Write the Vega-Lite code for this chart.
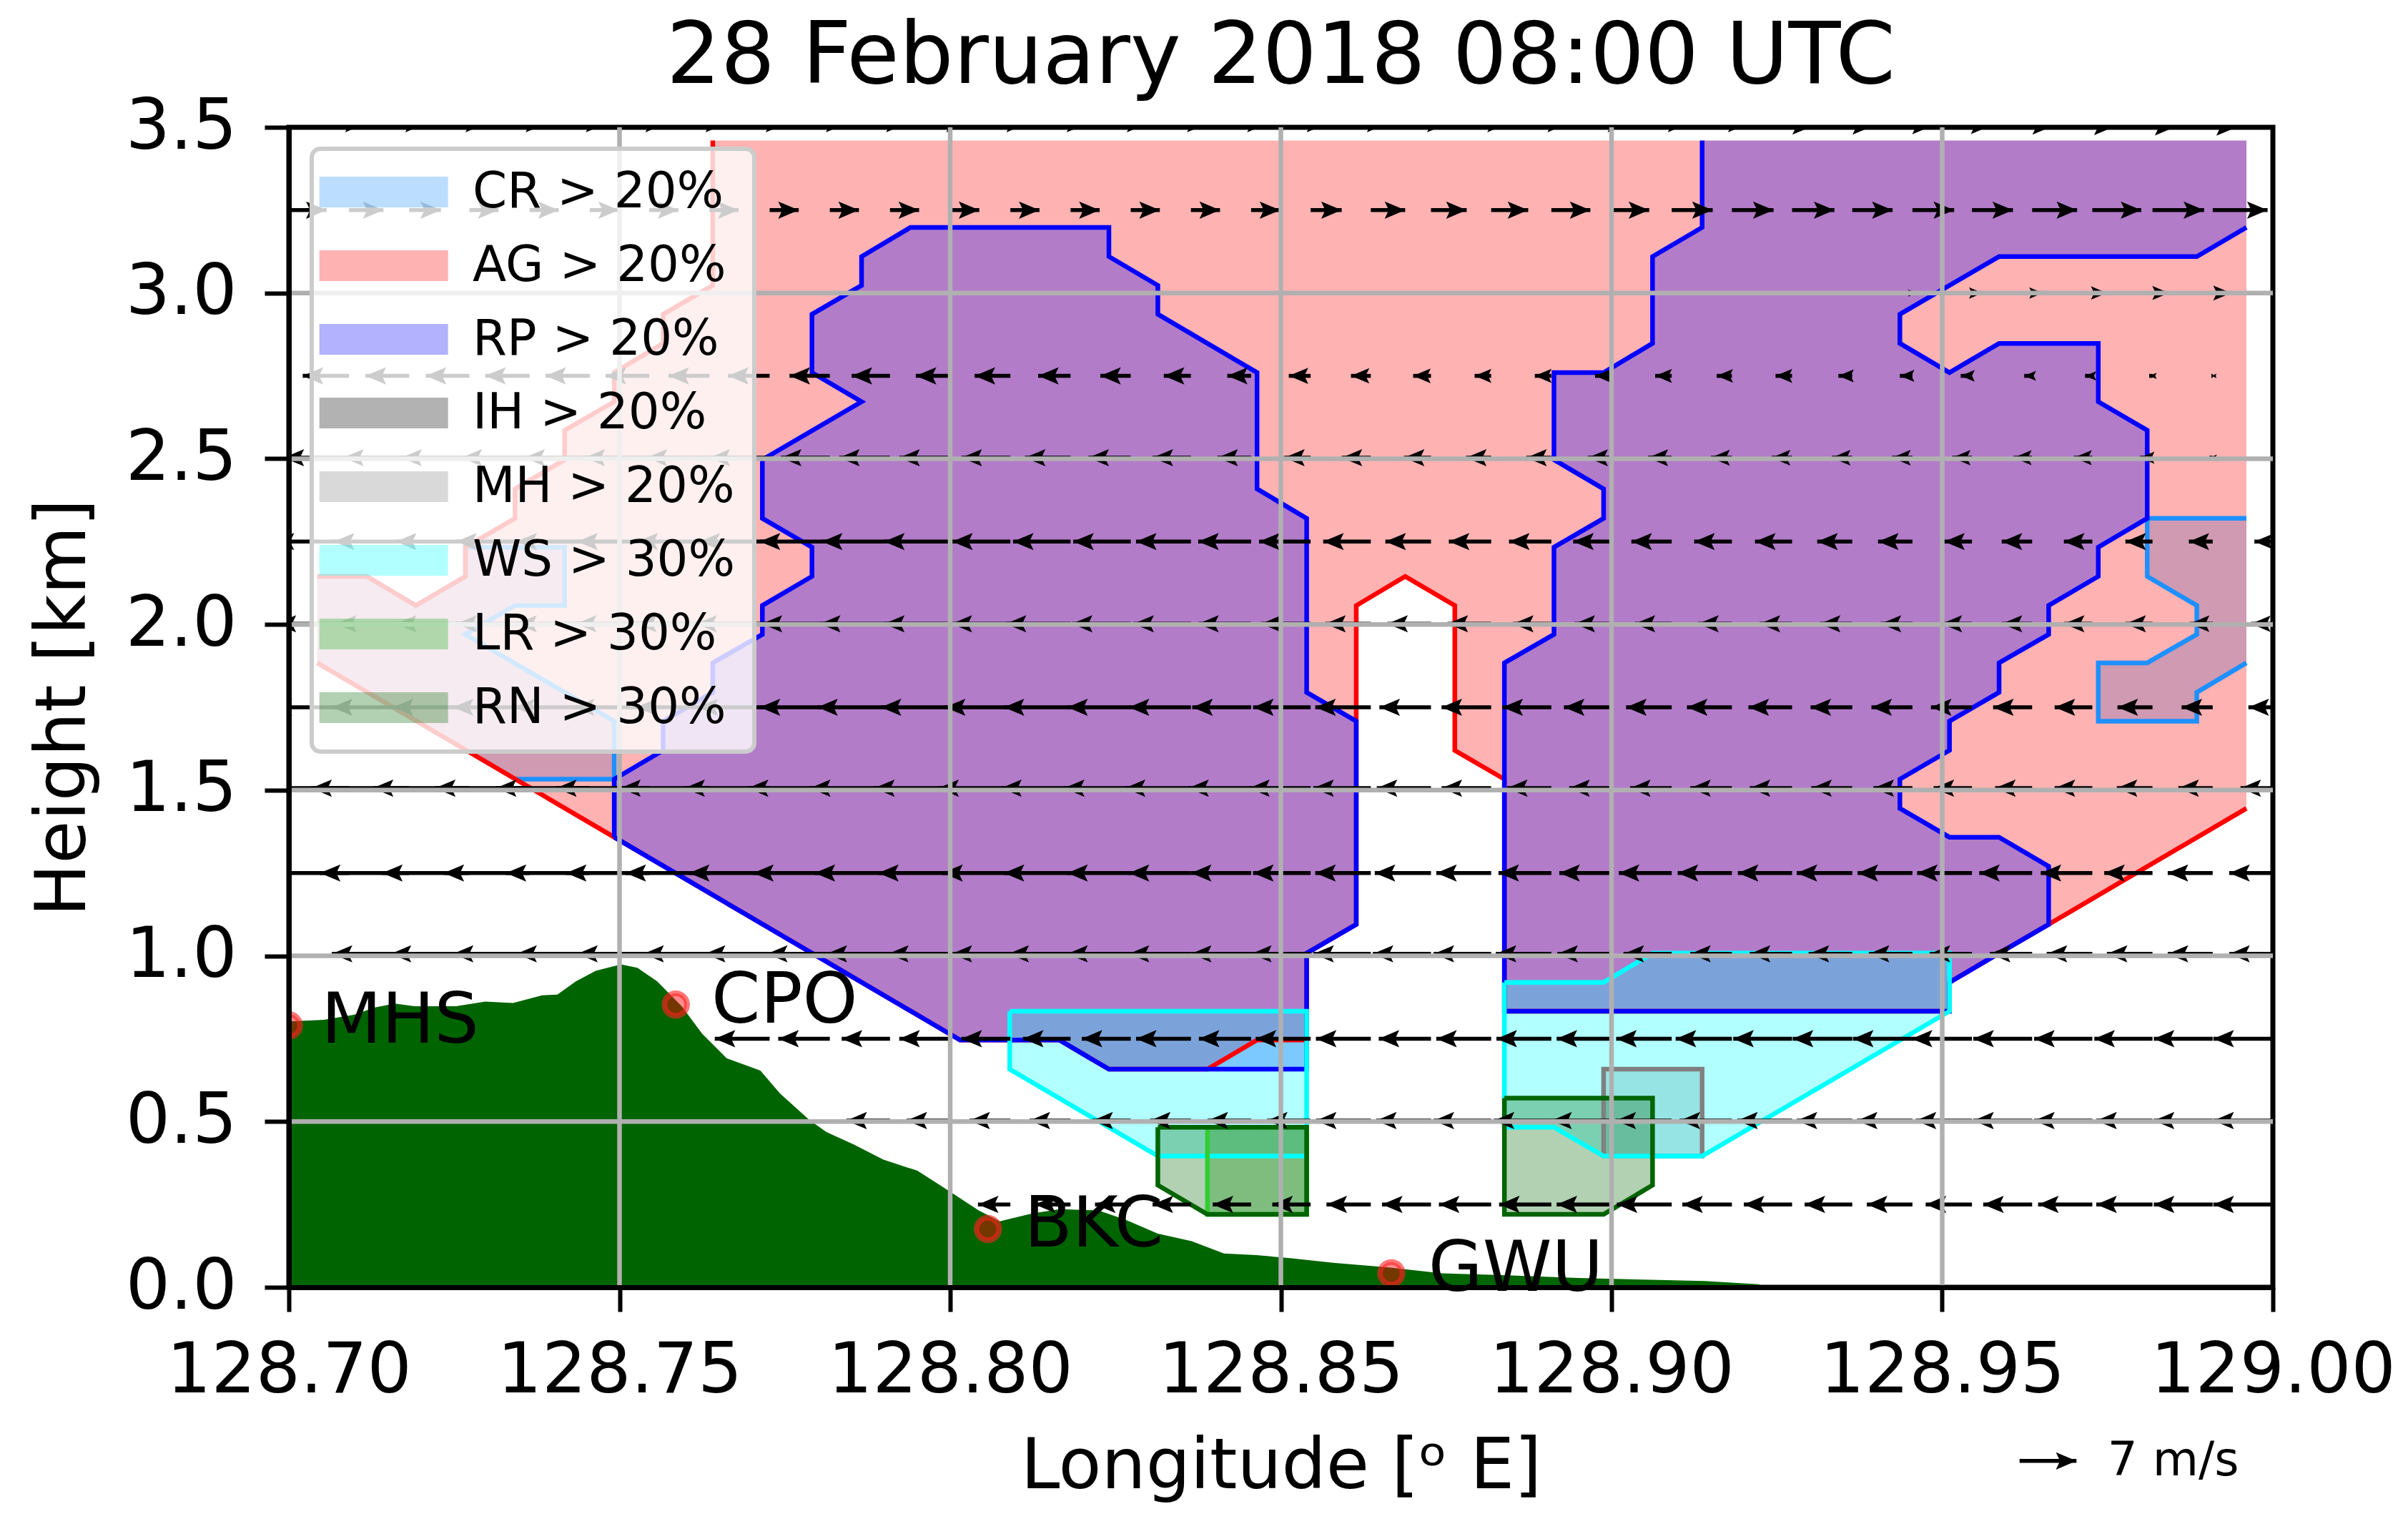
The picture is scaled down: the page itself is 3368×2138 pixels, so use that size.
{"$schema":"https://vega.github.io/schema/vega-lite/v6.json","width":2775,"height":1622,"autosize":{"type":"none"},"padding":{"left":404,"top":178,"right":189,"bottom":338},"background":"white",
"title":{"text":"28 February 2018 08:00 UTC","fontSize":119.5,"fontWeight":"normal","font":"DejaVu Sans","color":"black","offset":-12,"anchor":"middle"},
"datasets":{
"polys":[
{"cls":"CR > 20%","part":"CR1","seg":"CR1","i":0,"lon":128.7043,"h":1.884},{"cls":"CR > 20%","part":"CR1","seg":"CR2","i":1,"lon":128.7043,"h":2.145},{"cls":"CR > 20%","part":"CR1","seg":"CR2","i":2,"lon":128.7118,"h":2.145},{"cls":"CR > 20%","part":"CR1","seg":"CR2","i":3,"lon":128.7192,"h":2.057},{"cls":"CR > 20%","part":"CR1","seg":"CR2","i":4,"lon":128.7267,"h":2.145},{"cls":"CR > 20%","part":"CR1","seg":"CR2","i":5,"lon":128.7267,"h":2.233},{"cls":"CR > 20%","part":"CR1","seg":"CR2","i":6,"lon":128.7417,"h":2.233},{"cls":"CR > 20%","part":"CR1","seg":"CR2","i":7,"lon":128.7417,"h":2.057},{"cls":"CR > 20%","part":"CR1","seg":"CR2","i":8,"lon":128.7342,"h":2.057},{"cls":"CR > 20%","part":"CR1","seg":"CR2","i":9,"lon":128.7267,"h":1.97},{"cls":"CR > 20%","part":"CR1","seg":"CR2","i":10,"lon":128.7492,"h":1.708},{"cls":"CR > 20%","part":"CR1","seg":"CR2","i":11,"lon":128.7492,"h":1.533},{"cls":"CR > 20%","part":"CR1","seg":"CR2","i":12,"lon":128.7342,"h":1.533},
{"cls":"CR > 20%","part":"CR2","seg":"CR3","i":0,"lon":128.996,"h":2.32},{"cls":"CR > 20%","part":"CR2","seg":"CR3","i":1,"lon":128.981,"h":2.32},{"cls":"CR > 20%","part":"CR2","seg":"CR3","i":2,"lon":128.981,"h":2.145},{"cls":"CR > 20%","part":"CR2","seg":"CR3","i":3,"lon":128.9885,"h":2.057},{"cls":"CR > 20%","part":"CR2","seg":"CR3","i":4,"lon":128.9885,"h":1.97},{"cls":"CR > 20%","part":"CR2","seg":"CR3","i":5,"lon":128.981,"h":1.884},{"cls":"CR > 20%","part":"CR2","seg":"CR3","i":6,"lon":128.9736,"h":1.884},{"cls":"CR > 20%","part":"CR2","seg":"CR3","i":7,"lon":128.9736,"h":1.708},{"cls":"CR > 20%","part":"CR2","seg":"CR3","i":8,"lon":128.9885,"h":1.708},{"cls":"CR > 20%","part":"CR2","seg":"CR3","i":9,"lon":128.9885,"h":1.795},{"cls":"CR > 20%","part":"CR2","seg":"CR3","i":10,"lon":128.996,"h":1.884},
{"cls":"AG > 20%","part":"AG","seg":"AG1","i":0,"lon":128.996,"h":1.445},{"cls":"AG > 20%","part":"AG","seg":"AG1","i":1,"lon":128.9661,"h":1.095},{"cls":"AG > 20%","part":"AG","seg":"AG1","i":2,"lon":128.9586,"h":1.008},{"cls":"AG > 20%","part":"AG","seg":"AG1","i":3,"lon":128.9511,"h":0.92},{"cls":"AG > 20%","part":"AG","seg":"AG1","i":4,"lon":128.9511,"h":0.833},{"cls":"AG > 20%","part":"AG","seg":"AG1","i":5,"lon":128.8838,"h":0.833},{"cls":"AG > 20%","part":"AG","seg":"AG1","i":6,"lon":128.8838,"h":1.533},{"cls":"AG > 20%","part":"AG","seg":"AG1","i":7,"lon":128.8763,"h":1.62},{"cls":"AG > 20%","part":"AG","seg":"AG1","i":8,"lon":128.8763,"h":2.057},{"cls":"AG > 20%","part":"AG","seg":"AG1","i":9,"lon":128.8688,"h":2.145},{"cls":"AG > 20%","part":"AG","seg":"AG1","i":10,"lon":128.8614,"h":2.057},{"cls":"AG > 20%","part":"AG","seg":"AG1","i":11,"lon":128.8614,"h":1.095},{"cls":"AG > 20%","part":"AG","seg":"AG1","i":12,"lon":128.8539,"h":1.008},{"cls":"AG > 20%","part":"AG","seg":"AG1","i":13,"lon":128.8539,"h":0.746},{"cls":"AG > 20%","part":"AG","seg":"AG1","i":14,"lon":128.8464,"h":0.746},{"cls":"AG > 20%","part":"AG","seg":"AG1","i":15,"lon":128.8389,"h":0.658},{"cls":"AG > 20%","part":"AG","seg":"AG1","i":16,"lon":128.824,"h":0.658},{"cls":"AG > 20%","part":"AG","seg":"AG1","i":17,"lon":128.8165,"h":0.746},{"cls":"AG > 20%","part":"AG","seg":"AG1","i":18,"lon":128.8015,"h":0.746},{"cls":"AG > 20%","part":"AG","seg":"AG1","i":19,"lon":128.7492,"h":1.358},{"cls":"AG > 20%","part":"AG","seg":"AG1","i":20,"lon":128.7043,"h":1.884},{"cls":"AG > 20%","part":"AG","seg":"AG2","i":21,"lon":128.7043,"h":2.145},{"cls":"AG > 20%","part":"AG","seg":"AG2","i":22,"lon":128.7118,"h":2.145},{"cls":"AG > 20%","part":"AG","seg":"AG2","i":23,"lon":128.7192,"h":2.057},{"cls":"AG > 20%","part":"AG","seg":"AG2","i":24,"lon":128.7267,"h":2.145},{"cls":"AG > 20%","part":"AG","seg":"AG2","i":25,"lon":128.7267,"h":2.233},{"cls":"AG > 20%","part":"AG","seg":"AG2","i":26,"lon":128.7342,"h":2.32},{"cls":"AG > 20%","part":"AG","seg":"AG2","i":27,"lon":128.7342,"h":2.409},{"cls":"AG > 20%","part":"AG","seg":"AG2","i":28,"lon":128.7417,"h":2.497},{"cls":"AG > 20%","part":"AG","seg":"AG2","i":29,"lon":128.7417,"h":2.586},{"cls":"AG > 20%","part":"AG","seg":"AG2","i":30,"lon":128.7492,"h":2.672},{"cls":"AG > 20%","part":"AG","seg":"AG2","i":31,"lon":128.7492,"h":2.76},{"cls":"AG > 20%","part":"AG","seg":"AG2","i":32,"lon":128.7566,"h":2.848},{"cls":"AG > 20%","part":"AG","seg":"AG2","i":33,"lon":128.7566,"h":2.936},{"cls":"AG > 20%","part":"AG","seg":"AG2","i":34,"lon":128.7641,"h":3.023},{"cls":"AG > 20%","part":"AG","seg":"AG2","i":35,"lon":128.7641,"h":3.46},{"cls":"AG > 20%","part":"AG","i":36,"lon":128.996,"h":3.46},
{"cls":"RP > 20%","part":"RP1","seg":"RP1","i":0,"lon":128.7492,"h":1.358},{"cls":"RP > 20%","part":"RP1","seg":"RP1","i":1,"lon":128.7492,"h":1.533},{"cls":"RP > 20%","part":"RP1","seg":"RP1","i":2,"lon":128.7566,"h":1.62},{"cls":"RP > 20%","part":"RP1","seg":"RP1","i":3,"lon":128.7566,"h":1.708},{"cls":"RP > 20%","part":"RP1","seg":"RP1","i":4,"lon":128.7641,"h":1.795},{"cls":"RP > 20%","part":"RP1","seg":"RP1","i":5,"lon":128.7641,"h":1.884},{"cls":"RP > 20%","part":"RP1","seg":"RP1","i":6,"lon":128.7716,"h":1.97},{"cls":"RP > 20%","part":"RP1","seg":"RP1","i":7,"lon":128.7716,"h":2.057},{"cls":"RP > 20%","part":"RP1","seg":"RP1","i":8,"lon":128.7791,"h":2.145},{"cls":"RP > 20%","part":"RP1","seg":"RP1","i":9,"lon":128.7791,"h":2.233},{"cls":"RP > 20%","part":"RP1","seg":"RP1","i":10,"lon":128.7716,"h":2.32},{"cls":"RP > 20%","part":"RP1","seg":"RP1","i":11,"lon":128.7716,"h":2.497},{"cls":"RP > 20%","part":"RP1","seg":"RP1","i":12,"lon":128.7866,"h":2.672},{"cls":"RP > 20%","part":"RP1","seg":"RP1","i":13,"lon":128.7791,"h":2.76},{"cls":"RP > 20%","part":"RP1","seg":"RP1","i":14,"lon":128.7791,"h":2.936},{"cls":"RP > 20%","part":"RP1","seg":"RP1","i":15,"lon":128.7866,"h":3.023},{"cls":"RP > 20%","part":"RP1","seg":"RP1","i":16,"lon":128.7866,"h":3.11},{"cls":"RP > 20%","part":"RP1","seg":"RP1","i":17,"lon":128.794,"h":3.198},{"cls":"RP > 20%","part":"RP1","seg":"RP1","i":18,"lon":128.824,"h":3.198},{"cls":"RP > 20%","part":"RP1","seg":"RP1","i":19,"lon":128.824,"h":3.11},{"cls":"RP > 20%","part":"RP1","seg":"RP1","i":20,"lon":128.8314,"h":3.023},{"cls":"RP > 20%","part":"RP1","seg":"RP1","i":21,"lon":128.8314,"h":2.936},{"cls":"RP > 20%","part":"RP1","seg":"RP1","i":22,"lon":128.8464,"h":2.76},{"cls":"RP > 20%","part":"RP1","seg":"RP1","i":23,"lon":128.8464,"h":2.409},{"cls":"RP > 20%","part":"RP1","seg":"RP1","i":24,"lon":128.8539,"h":2.32},{"cls":"RP > 20%","part":"RP1","seg":"RP1","i":25,"lon":128.8539,"h":1.795},{"cls":"RP > 20%","part":"RP1","seg":"RP1","i":26,"lon":128.8614,"h":1.708},{"cls":"RP > 20%","part":"RP1","seg":"RP1","i":27,"lon":128.8614,"h":1.095},{"cls":"RP > 20%","part":"RP1","seg":"RP1","i":28,"lon":128.8539,"h":1.008},{"cls":"RP > 20%","part":"RP1","seg":"RP1","i":29,"lon":128.8539,"h":0.658},{"cls":"RP > 20%","part":"RP1","seg":"RP1","i":30,"lon":128.824,"h":0.658},{"cls":"RP > 20%","part":"RP1","seg":"RP1","i":31,"lon":128.8165,"h":0.746},{"cls":"RP > 20%","part":"RP1","seg":"RP1","i":32,"lon":128.8015,"h":0.746},{"cls":"RP > 20%","part":"RP1","seg":"RP1","i":33,"lon":128.7492,"h":1.358},
{"cls":"RP > 20%","part":"RP2","seg":"RP2","i":0,"lon":128.9137,"h":3.46},{"cls":"RP > 20%","part":"RP2","seg":"RP2","i":1,"lon":128.9137,"h":3.198},{"cls":"RP > 20%","part":"RP2","seg":"RP2","i":2,"lon":128.9062,"h":3.11},{"cls":"RP > 20%","part":"RP2","seg":"RP2","i":3,"lon":128.9062,"h":2.848},{"cls":"RP > 20%","part":"RP2","seg":"RP2","i":4,"lon":128.8988,"h":2.76},{"cls":"RP > 20%","part":"RP2","seg":"RP2","i":5,"lon":128.8913,"h":2.76},{"cls":"RP > 20%","part":"RP2","seg":"RP2","i":6,"lon":128.8913,"h":2.497},{"cls":"RP > 20%","part":"RP2","seg":"RP2","i":7,"lon":128.8988,"h":2.409},{"cls":"RP > 20%","part":"RP2","seg":"RP2","i":8,"lon":128.8988,"h":2.32},{"cls":"RP > 20%","part":"RP2","seg":"RP2","i":9,"lon":128.8913,"h":2.233},{"cls":"RP > 20%","part":"RP2","seg":"RP2","i":10,"lon":128.8913,"h":1.97},{"cls":"RP > 20%","part":"RP2","seg":"RP2","i":11,"lon":128.8838,"h":1.884},{"cls":"RP > 20%","part":"RP2","seg":"RP2","i":12,"lon":128.8838,"h":0.833},{"cls":"RP > 20%","part":"RP2","seg":"RP2","i":13,"lon":128.9511,"h":0.833},{"cls":"RP > 20%","part":"RP2","seg":"RP2","i":14,"lon":128.9511,"h":0.92},{"cls":"RP > 20%","part":"RP2","seg":"RP2","i":15,"lon":128.9586,"h":1.008},{"cls":"RP > 20%","part":"RP2","seg":"RP2","i":16,"lon":128.9661,"h":1.095},{"cls":"RP > 20%","part":"RP2","seg":"RP2","i":17,"lon":128.9661,"h":1.27},{"cls":"RP > 20%","part":"RP2","seg":"RP2","i":18,"lon":128.9586,"h":1.358},{"cls":"RP > 20%","part":"RP2","seg":"RP2","i":19,"lon":128.9511,"h":1.358},{"cls":"RP > 20%","part":"RP2","seg":"RP2","i":20,"lon":128.9436,"h":1.445},{"cls":"RP > 20%","part":"RP2","seg":"RP2","i":21,"lon":128.9436,"h":1.533},{"cls":"RP > 20%","part":"RP2","seg":"RP2","i":22,"lon":128.9511,"h":1.62},{"cls":"RP > 20%","part":"RP2","seg":"RP2","i":23,"lon":128.9511,"h":1.708},{"cls":"RP > 20%","part":"RP2","seg":"RP2","i":24,"lon":128.9586,"h":1.795},{"cls":"RP > 20%","part":"RP2","seg":"RP2","i":25,"lon":128.9586,"h":1.884},{"cls":"RP > 20%","part":"RP2","seg":"RP2","i":26,"lon":128.9661,"h":1.97},{"cls":"RP > 20%","part":"RP2","seg":"RP2","i":27,"lon":128.9661,"h":2.057},{"cls":"RP > 20%","part":"RP2","seg":"RP2","i":28,"lon":128.9736,"h":2.145},{"cls":"RP > 20%","part":"RP2","seg":"RP2","i":29,"lon":128.9736,"h":2.233},{"cls":"RP > 20%","part":"RP2","seg":"RP2","i":30,"lon":128.981,"h":2.32},{"cls":"RP > 20%","part":"RP2","seg":"RP2","i":31,"lon":128.981,"h":2.586},{"cls":"RP > 20%","part":"RP2","seg":"RP2","i":32,"lon":128.9736,"h":2.672},{"cls":"RP > 20%","part":"RP2","seg":"RP2","i":33,"lon":128.9736,"h":2.848},{"cls":"RP > 20%","part":"RP2","seg":"RP2","i":34,"lon":128.9586,"h":2.848},{"cls":"RP > 20%","part":"RP2","seg":"RP2","i":35,"lon":128.9511,"h":2.76},{"cls":"RP > 20%","part":"RP2","seg":"RP2","i":36,"lon":128.9436,"h":2.848},{"cls":"RP > 20%","part":"RP2","seg":"RP2","i":37,"lon":128.9436,"h":2.936},{"cls":"RP > 20%","part":"RP2","seg":"RP2","i":38,"lon":128.9586,"h":3.11},{"cls":"RP > 20%","part":"RP2","seg":"RP2","i":39,"lon":128.9885,"h":3.11},{"cls":"RP > 20%","part":"RP2","seg":"RP2","i":40,"lon":128.996,"h":3.198},{"cls":"RP > 20%","part":"RP2","i":41,"lon":128.996,"h":3.46},
{"cls":"MH > 20%","part":"MH","seg":"MH","i":0,"lon":128.8988,"h":0.396},{"cls":"MH > 20%","part":"MH","seg":"MH","i":1,"lon":128.8988,"h":0.658},{"cls":"MH > 20%","part":"MH","seg":"MH","i":2,"lon":128.9137,"h":0.658},{"cls":"MH > 20%","part":"MH","seg":"MH","i":3,"lon":128.9137,"h":0.396},{"cls":"MH > 20%","part":"MH","seg":"MH","i":4,"lon":128.8988,"h":0.396},
{"cls":"WS > 30%","part":"WS1","seg":"WS1","i":0,"lon":128.809,"h":0.833},{"cls":"WS > 30%","part":"WS1","seg":"WS1","i":1,"lon":128.8539,"h":0.833},{"cls":"WS > 30%","part":"WS1","seg":"WS1","i":2,"lon":128.8539,"h":0.396},{"cls":"WS > 30%","part":"WS1","seg":"WS1","i":3,"lon":128.8314,"h":0.396},{"cls":"WS > 30%","part":"WS1","seg":"WS1","i":4,"lon":128.809,"h":0.658},{"cls":"WS > 30%","part":"WS1","seg":"WS1","i":5,"lon":128.809,"h":0.833},
{"cls":"WS > 30%","part":"WS2","seg":"WS2","i":0,"lon":128.8838,"h":0.92},{"cls":"WS > 30%","part":"WS2","seg":"WS2","i":1,"lon":128.8988,"h":0.92},{"cls":"WS > 30%","part":"WS2","seg":"WS2","i":2,"lon":128.9062,"h":1.008},{"cls":"WS > 30%","part":"WS2","seg":"WS2","i":3,"lon":128.9511,"h":1.008},{"cls":"WS > 30%","part":"WS2","seg":"WS2","i":4,"lon":128.9511,"h":0.833},{"cls":"WS > 30%","part":"WS2","seg":"WS2","i":5,"lon":128.9137,"h":0.396},{"cls":"WS > 30%","part":"WS2","seg":"WS2","i":6,"lon":128.8988,"h":0.396},{"cls":"WS > 30%","part":"WS2","seg":"WS2","i":7,"lon":128.8913,"h":0.483},{"cls":"WS > 30%","part":"WS2","seg":"WS2","i":8,"lon":128.8838,"h":0.483},{"cls":"WS > 30%","part":"WS2","seg":"WS2","i":9,"lon":128.8838,"h":0.92},
{"cls":"LR > 30%","part":"LR","seg":"LR","i":0,"lon":128.8389,"h":0.483},{"cls":"LR > 30%","part":"LR","seg":"LR","i":1,"lon":128.8539,"h":0.483},{"cls":"LR > 30%","part":"LR","seg":"LR","i":2,"lon":128.8539,"h":0.22},{"cls":"LR > 30%","part":"LR","seg":"LR","i":3,"lon":128.8389,"h":0.22},{"cls":"LR > 30%","part":"LR","seg":"LR","i":4,"lon":128.8389,"h":0.483},
{"cls":"RN > 30%","part":"RN1","seg":"RN1","i":0,"lon":128.8314,"h":0.483},{"cls":"RN > 30%","part":"RN1","seg":"RN1","i":1,"lon":128.8539,"h":0.483},{"cls":"RN > 30%","part":"RN1","seg":"RN1","i":2,"lon":128.8539,"h":0.22},{"cls":"RN > 30%","part":"RN1","seg":"RN1","i":3,"lon":128.8389,"h":0.22},{"cls":"RN > 30%","part":"RN1","seg":"RN1","i":4,"lon":128.8314,"h":0.308},{"cls":"RN > 30%","part":"RN1","seg":"RN1","i":5,"lon":128.8314,"h":0.483},
{"cls":"RN > 30%","part":"RN2","seg":"RN2","i":0,"lon":128.8838,"h":0.571},{"cls":"RN > 30%","part":"RN2","seg":"RN2","i":1,"lon":128.9062,"h":0.571},{"cls":"RN > 30%","part":"RN2","seg":"RN2","i":2,"lon":128.9062,"h":0.308},{"cls":"RN > 30%","part":"RN2","seg":"RN2","i":3,"lon":128.8988,"h":0.22},{"cls":"RN > 30%","part":"RN2","seg":"RN2","i":4,"lon":128.8838,"h":0.22},{"cls":"RN > 30%","part":"RN2","seg":"RN2","i":5,"lon":128.8838,"h":0.571}
],
"terrain":[{"lon":128.7,"h":0.802},{"lon":128.7053,"h":0.807},{"lon":128.7098,"h":0.822},{"lon":128.713,"h":0.844},{"lon":128.716,"h":0.856},{"lon":128.719,"h":0.848},{"lon":128.7223,"h":0.848},{"lon":128.7253,"h":0.848},{"lon":128.7297,"h":0.862},{"lon":128.7339,"h":0.858},{"lon":128.7383,"h":0.881},{"lon":128.7406,"h":0.883},{"lon":128.7434,"h":0.923},{"lon":128.7464,"h":0.955},{"lon":128.7502,"h":0.974},{"lon":128.7527,"h":0.964},{"lon":128.7557,"h":0.923},{"lon":128.7594,"h":0.848},{"lon":128.7625,"h":0.765},{"lon":128.7662,"h":0.691},{"lon":128.7713,"h":0.654},{"lon":128.7743,"h":0.584},{"lon":128.7787,"h":0.505},{"lon":128.7813,"h":0.468},{"lon":128.7854,"h":0.431},{"lon":128.7899,"h":0.385},{"lon":128.795,"h":0.352},{"lon":128.8001,"h":0.287},{"lon":128.8043,"h":0.232},{"lon":128.8075,"h":0.199},{"lon":128.8124,"h":0.223},{"lon":128.8166,"h":0.236},{"lon":128.8224,"h":0.232},{"lon":128.8265,"h":0.204},{"lon":128.8314,"h":0.162},{"lon":128.8365,"h":0.139},{"lon":128.8414,"h":0.102},{"lon":128.8463,"h":0.097},{"lon":128.8514,"h":0.088},{"lon":128.8579,"h":0.074},{"lon":128.8663,"h":0.06},{"lon":128.8744,"h":0.042},{"lon":128.8827,"h":0.037},{"lon":128.895,"h":0.028},{"lon":128.9048,"h":0.023},{"lon":128.9141,"h":0.019},{"lon":128.9222,"h":0.009},{"lon":128.9233,"h":0}],
"sites":[{"lon":128.7,"h":0.79,"name":"MHS","tx":128.7049,"ty":0.8},{"lon":128.7585,"h":0.853,"name":"CPO","tx":128.7639,"ty":0.862},{"lon":128.8057,"h":0.176,"name":"BKC","tx":128.8112,"ty":0.185},{"lon":128.8667,"h":0.042,"name":"GWU","tx":128.8723,"ty":0.051}],
"gridx":[{"lon":128.75,"h":0,"h2":3.5},{"lon":128.8,"h":0,"h2":3.5},{"lon":128.85,"h":0,"h2":3.5},{"lon":128.9,"h":0,"h2":3.5},{"lon":128.95,"h":0,"h2":3.5}],
"gridy":[{"lon":128.7,"tip":129,"h":0.5},{"lon":128.7,"tip":129,"h":1},{"lon":128.7,"tip":129,"h":1.5},{"lon":128.7,"tip":129,"h":2},{"lon":128.7,"tip":129,"h":2.5},{"lon":128.7,"tip":129,"h":3}],
"key":[{"lon":128.9617,"h":-0.524,"tip":128.9703,"ms":7,"label":"7 m/s","tx":128.975}],
"arrows":[
{"lon":128.7,"h":3.5,"tip":128.7012,"ms":1},{"lon":128.7091,"h":3.5,"tip":128.7103,"ms":1},{"lon":128.7182,"h":3.5,"tip":128.7194,"ms":1},{"lon":128.7273,"h":3.5,"tip":128.7285,"ms":1},{"lon":128.7364,"h":3.5,"tip":128.7376,"ms":1},{"lon":128.7455,"h":3.5,"tip":128.7467,"ms":1},{"lon":128.7545,"h":3.5,"tip":128.7557,"ms":1},{"lon":128.7636,"h":3.5,"tip":128.7648,"ms":1},{"lon":128.7727,"h":3.5,"tip":128.7739,"ms":1},{"lon":128.7818,"h":3.5,"tip":128.783,"ms":1},{"lon":128.7909,"h":3.5,"tip":128.7921,"ms":1},{"lon":128.8,"h":3.5,"tip":128.8012,"ms":1},{"lon":128.8091,"h":3.5,"tip":128.8103,"ms":1},{"lon":128.8182,"h":3.5,"tip":128.8194,"ms":1},{"lon":128.8273,"h":3.5,"tip":128.8285,"ms":1},{"lon":128.8364,"h":3.5,"tip":128.8376,"ms":1},{"lon":128.8455,"h":3.5,"tip":128.8467,"ms":1},{"lon":128.8545,"h":3.5,"tip":128.8557,"ms":1},{"lon":128.8636,"h":3.5,"tip":128.8648,"ms":1},{"lon":128.8727,"h":3.5,"tip":128.8739,"ms":1},{"lon":128.8818,"h":3.5,"tip":128.883,"ms":1},{"lon":128.8909,"h":3.5,"tip":128.8921,"ms":1},{"lon":128.9,"h":3.5,"tip":128.9012,"ms":1},{"lon":128.9091,"h":3.5,"tip":128.9103,"ms":1},{"lon":128.9182,"h":3.5,"tip":128.9194,"ms":1},{"lon":128.9273,"h":3.5,"tip":128.93,"ms":2.2},{"lon":128.9364,"h":3.5,"tip":128.9391,"ms":2.2},{"lon":128.9455,"h":3.5,"tip":128.948,"ms":2},{"lon":128.9545,"h":3.5,"tip":128.9568,"ms":1.9},{"lon":128.9636,"h":3.5,"tip":128.9663,"ms":2.2},{"lon":128.9727,"h":3.5,"tip":128.9758,"ms":2.5},{"lon":128.9818,"h":3.5,"tip":128.9851,"ms":2.7},{"lon":128.9909,"h":3.5,"tip":128.9945,"ms":2.9},
{"lon":128.7,"h":3.25,"tip":128.7057,"ms":4.6},{"lon":128.7091,"h":3.25,"tip":128.7143,"ms":4.2},{"lon":128.7182,"h":3.25,"tip":128.723,"ms":3.9},{"lon":128.7273,"h":3.25,"tip":128.7317,"ms":3.6},{"lon":128.7364,"h":3.25,"tip":128.7408,"ms":3.6},{"lon":128.7455,"h":3.25,"tip":128.7499,"ms":3.6},{"lon":128.7545,"h":3.25,"tip":128.7589,"ms":3.6},{"lon":128.7636,"h":3.25,"tip":128.768,"ms":3.6},{"lon":128.7727,"h":3.25,"tip":128.7771,"ms":3.6},{"lon":128.7818,"h":3.25,"tip":128.7862,"ms":3.6},{"lon":128.7909,"h":3.25,"tip":128.7953,"ms":3.6},{"lon":128.8,"h":3.25,"tip":128.8044,"ms":3.6},{"lon":128.8091,"h":3.25,"tip":128.8135,"ms":3.6},{"lon":128.8182,"h":3.25,"tip":128.8226,"ms":3.6},{"lon":128.8273,"h":3.25,"tip":128.8317,"ms":3.6},{"lon":128.8364,"h":3.25,"tip":128.8408,"ms":3.6},{"lon":128.8455,"h":3.25,"tip":128.8499,"ms":3.6},{"lon":128.8545,"h":3.25,"tip":128.8592,"ms":3.8},{"lon":128.8636,"h":3.25,"tip":128.8688,"ms":4.2},{"lon":128.8727,"h":3.25,"tip":128.8781,"ms":4.4},{"lon":128.8818,"h":3.25,"tip":128.8874,"ms":4.5},{"lon":128.8909,"h":3.25,"tip":128.8968,"ms":4.8},{"lon":128.9,"h":3.25,"tip":128.9057,"ms":4.6},{"lon":128.9091,"h":3.25,"tip":128.9153,"ms":5},{"lon":128.9182,"h":3.25,"tip":128.9245,"ms":5.1},{"lon":128.9273,"h":3.25,"tip":128.9337,"ms":5.2},{"lon":128.9364,"h":3.25,"tip":128.9425,"ms":4.9},{"lon":128.9455,"h":3.25,"tip":128.9518,"ms":5.1},{"lon":128.9545,"h":3.25,"tip":128.9607,"ms":5},{"lon":128.9636,"h":3.25,"tip":128.9704,"ms":5.5},{"lon":128.9727,"h":3.25,"tip":128.9801,"ms":6},{"lon":128.9818,"h":3.25,"tip":128.9896,"ms":6.3},{"lon":128.9909,"h":3.25,"tip":128.9992,"ms":6.7},
{"lon":128.9455,"h":3,"tip":128.9461,"ms":0.5},{"lon":128.9545,"h":3,"tip":128.9561,"ms":1.3},{"lon":128.9636,"h":3,"tip":128.9652,"ms":1.3},{"lon":128.9727,"h":3,"tip":128.9749,"ms":1.8},{"lon":128.9818,"h":3,"tip":128.9843,"ms":2},{"lon":128.9909,"h":3,"tip":128.9937,"ms":2.3},
{"lon":128.7091,"h":2.75,"tip":128.7021,"ms":5.7},{"lon":128.7182,"h":2.75,"tip":128.7116,"ms":5.3},{"lon":128.7273,"h":2.75,"tip":128.7207,"ms":5.3},{"lon":128.7364,"h":2.75,"tip":128.7297,"ms":5.4},{"lon":128.7455,"h":2.75,"tip":128.7388,"ms":5.4},{"lon":128.7545,"h":2.75,"tip":128.7479,"ms":5.3},{"lon":128.7636,"h":2.75,"tip":128.7574,"ms":5},{"lon":128.7727,"h":2.75,"tip":128.7664,"ms":5.1},{"lon":128.7818,"h":2.75,"tip":128.7757,"ms":4.9},{"lon":128.7909,"h":2.75,"tip":128.7851,"ms":4.7},{"lon":128.8,"h":2.75,"tip":128.7948,"ms":4.2},{"lon":128.8091,"h":2.75,"tip":128.8037,"ms":4.4},{"lon":128.8182,"h":2.75,"tip":128.8133,"ms":4},{"lon":128.8273,"h":2.75,"tip":128.8227,"ms":3.7},{"lon":128.8364,"h":2.75,"tip":128.8323,"ms":3.3},{"lon":128.8455,"h":2.75,"tip":128.8419,"ms":2.9},{"lon":128.8545,"h":2.75,"tip":128.8512,"ms":2.7},{"lon":128.8636,"h":2.75,"tip":128.8606,"ms":2.4},{"lon":128.8727,"h":2.75,"tip":128.87,"ms":2.2},{"lon":128.8818,"h":2.75,"tip":128.8793,"ms":2},{"lon":128.8909,"h":2.75,"tip":128.8884,"ms":2},{"lon":128.9,"h":2.75,"tip":128.8975,"ms":2},{"lon":128.9091,"h":2.75,"tip":128.9066,"ms":2},{"lon":128.9182,"h":2.75,"tip":128.9159,"ms":1.9},{"lon":128.9273,"h":2.75,"tip":128.9248,"ms":2},{"lon":128.9364,"h":2.75,"tip":128.9343,"ms":1.7},{"lon":128.9455,"h":2.75,"tip":128.9436,"ms":1.5},{"lon":128.9545,"h":2.75,"tip":128.9528,"ms":1.4},{"lon":128.9636,"h":2.75,"tip":128.9624,"ms":1},{"lon":128.9727,"h":2.75,"tip":128.9716,"ms":0.9},{"lon":128.9818,"h":2.75,"tip":128.9813,"ms":0.4},{"lon":128.9909,"h":2.75,"tip":128.9907,"ms":0.2},
{"lon":128.7091,"h":2.503,"tip":128.6992,"ms":8},{"lon":128.7182,"h":2.503,"tip":128.7082,"ms":8.1},{"lon":128.7273,"h":2.503,"tip":128.717,"ms":8.3},{"lon":128.7364,"h":2.503,"tip":128.7261,"ms":8.3},{"lon":128.7455,"h":2.503,"tip":128.7356,"ms":8},{"lon":128.7545,"h":2.503,"tip":128.7447,"ms":7.9},{"lon":128.7636,"h":2.503,"tip":128.7541,"ms":7.7},{"lon":128.7727,"h":2.503,"tip":128.7636,"ms":7.4},{"lon":128.7818,"h":2.503,"tip":128.7744,"ms":6},{"lon":128.7909,"h":2.503,"tip":128.7832,"ms":6.2},{"lon":128.8,"h":2.503,"tip":128.7923,"ms":6.2},{"lon":128.8091,"h":2.503,"tip":128.8017,"ms":6},{"lon":128.8182,"h":2.503,"tip":128.8113,"ms":5.6},{"lon":128.8273,"h":2.503,"tip":128.8209,"ms":5.2},{"lon":128.8364,"h":2.503,"tip":128.8306,"ms":4.7},{"lon":128.8455,"h":2.503,"tip":128.8404,"ms":4.1},{"lon":128.8545,"h":2.503,"tip":128.8505,"ms":3.2},{"lon":128.8636,"h":2.503,"tip":128.8592,"ms":3.6},{"lon":128.8727,"h":2.503,"tip":128.8686,"ms":3.3},{"lon":128.8818,"h":2.503,"tip":128.878,"ms":3.1},{"lon":128.8909,"h":2.503,"tip":128.8871,"ms":3.1},{"lon":128.9,"h":2.503,"tip":128.8964,"ms":2.9},{"lon":128.9091,"h":2.503,"tip":128.9055,"ms":2.9},{"lon":128.9182,"h":2.503,"tip":128.915,"ms":2.6},{"lon":128.9273,"h":2.503,"tip":128.9242,"ms":2.5},{"lon":128.9364,"h":2.503,"tip":128.9333,"ms":2.5},{"lon":128.9455,"h":2.503,"tip":128.9424,"ms":2.5},{"lon":128.9545,"h":2.503,"tip":128.9515,"ms":2.4},{"lon":128.9636,"h":2.503,"tip":128.9608,"ms":2.3},{"lon":128.9727,"h":2.503,"tip":128.9699,"ms":2.3},{"lon":128.9818,"h":2.503,"tip":128.9799,"ms":1.5},{"lon":128.9909,"h":2.503,"tip":128.9904,"ms":0.4},
{"lon":128.7091,"h":2.25,"tip":128.6977,"ms":9.2},{"lon":128.7182,"h":2.25,"tip":128.7068,"ms":9.2},{"lon":128.7273,"h":2.25,"tip":128.7162,"ms":9},{"lon":128.7364,"h":2.25,"tip":128.7253,"ms":9},{"lon":128.7455,"h":2.25,"tip":128.7344,"ms":9},{"lon":128.7545,"h":2.25,"tip":128.7436,"ms":8.8},{"lon":128.7636,"h":2.25,"tip":128.7527,"ms":8.8},{"lon":128.7727,"h":2.25,"tip":128.7621,"ms":8.6},{"lon":128.7818,"h":2.25,"tip":128.7712,"ms":8.6},{"lon":128.7909,"h":2.25,"tip":128.7806,"ms":8.3},{"lon":128.8,"h":2.25,"tip":128.79,"ms":8.1},{"lon":128.8091,"h":2.25,"tip":128.8003,"ms":7.1},{"lon":128.8182,"h":2.25,"tip":128.8095,"ms":7},{"lon":128.8273,"h":2.25,"tip":128.8186,"ms":7},{"lon":128.8364,"h":2.25,"tip":128.8281,"ms":6.7},{"lon":128.8455,"h":2.25,"tip":128.8375,"ms":6.5},{"lon":128.8545,"h":2.25,"tip":128.8467,"ms":6.3},{"lon":128.8636,"h":2.25,"tip":128.8564,"ms":5.8},{"lon":128.8727,"h":2.25,"tip":128.8658,"ms":5.6},{"lon":128.8818,"h":2.25,"tip":128.8754,"ms":5.2},{"lon":128.8909,"h":2.25,"tip":128.8845,"ms":5.2},{"lon":128.9,"h":2.25,"tip":128.8942,"ms":4.7},{"lon":128.9091,"h":2.25,"tip":128.903,"ms":4.9},{"lon":128.9182,"h":2.25,"tip":128.9125,"ms":4.6},{"lon":128.9273,"h":2.25,"tip":128.9217,"ms":4.5},{"lon":128.9364,"h":2.25,"tip":128.9311,"ms":4.3},{"lon":128.9455,"h":2.25,"tip":128.9403,"ms":4.2},{"lon":128.9545,"h":2.25,"tip":128.9503,"ms":3.4},{"lon":128.9636,"h":2.25,"tip":128.959,"ms":3.7},{"lon":128.9727,"h":2.25,"tip":128.9684,"ms":3.5},{"lon":128.9818,"h":2.25,"tip":128.9777,"ms":3.3},{"lon":128.9909,"h":2.25,"tip":128.9873,"ms":2.9},{"lon":129,"h":2.25,"tip":128.9972,"ms":2.3},
{"lon":128.7091,"h":2.002,"tip":128.698,"ms":9},{"lon":128.7182,"h":2.002,"tip":128.7071,"ms":9},{"lon":128.7273,"h":2.002,"tip":128.7162,"ms":9},{"lon":128.7364,"h":2.002,"tip":128.7253,"ms":9},{"lon":128.7455,"h":2.002,"tip":128.7344,"ms":9},{"lon":128.7545,"h":2.002,"tip":128.7434,"ms":9},{"lon":128.7636,"h":2.002,"tip":128.7525,"ms":9},{"lon":128.7727,"h":2.002,"tip":128.7616,"ms":9},{"lon":128.7818,"h":2.002,"tip":128.7715,"ms":8.3},{"lon":128.7909,"h":2.002,"tip":128.7803,"ms":8.6},{"lon":128.8,"h":2.002,"tip":128.79,"ms":8.1},{"lon":128.8091,"h":2.002,"tip":128.8002,"ms":7.2},{"lon":128.8182,"h":2.002,"tip":128.8084,"ms":7.9},{"lon":128.8273,"h":2.002,"tip":128.8184,"ms":7.2},{"lon":128.8364,"h":2.002,"tip":128.8277,"ms":7},{"lon":128.8455,"h":2.002,"tip":128.8375,"ms":6.5},{"lon":128.8545,"h":2.002,"tip":128.847,"ms":6.1},{"lon":128.8636,"h":2.002,"tip":128.8567,"ms":5.6},{"lon":128.8727,"h":2.002,"tip":128.8661,"ms":5.3},{"lon":128.8818,"h":2.002,"tip":128.8752,"ms":5.3},{"lon":128.8909,"h":2.002,"tip":128.8851,"ms":4.7},{"lon":128.9,"h":2.002,"tip":128.8944,"ms":4.5},{"lon":128.9091,"h":2.002,"tip":128.9035,"ms":4.5},{"lon":128.9182,"h":2.002,"tip":128.9131,"ms":4.1},{"lon":128.9273,"h":2.002,"tip":128.9224,"ms":4},{"lon":128.9364,"h":2.002,"tip":128.9315,"ms":4},{"lon":128.9455,"h":2.002,"tip":128.9407,"ms":3.9},{"lon":128.9545,"h":2.002,"tip":128.9499,"ms":3.7},{"lon":128.9636,"h":2.002,"tip":128.959,"ms":3.7},{"lon":128.9727,"h":2.002,"tip":128.9684,"ms":3.5},{"lon":128.9818,"h":2.002,"tip":128.9777,"ms":3.3},{"lon":128.9909,"h":2.002,"tip":128.9874,"ms":2.8},{"lon":129,"h":2.002,"tip":128.9967,"ms":2.7},
{"lon":128.7091,"h":1.75,"tip":128.6974,"ms":9.5},{"lon":128.7182,"h":1.75,"tip":128.7065,"ms":9.5},{"lon":128.7273,"h":1.75,"tip":128.7157,"ms":9.4},{"lon":128.7364,"h":1.75,"tip":128.7248,"ms":9.4},{"lon":128.7455,"h":1.75,"tip":128.7341,"ms":9.2},{"lon":128.7545,"h":1.75,"tip":128.7431,"ms":9.2},{"lon":128.7636,"h":1.75,"tip":128.7525,"ms":9},{"lon":128.7727,"h":1.75,"tip":128.7618,"ms":8.8},{"lon":128.7818,"h":1.75,"tip":128.7712,"ms":8.6},{"lon":128.7909,"h":1.75,"tip":128.7799,"ms":8.9},{"lon":128.8,"h":1.75,"tip":128.7895,"ms":8.5},{"lon":128.8091,"h":1.75,"tip":128.7992,"ms":8},{"lon":128.8182,"h":1.75,"tip":128.8081,"ms":8.2},{"lon":128.8273,"h":1.75,"tip":128.8177,"ms":7.8},{"lon":128.8364,"h":1.75,"tip":128.827,"ms":7.6},{"lon":128.8455,"h":1.75,"tip":128.8366,"ms":7.2},{"lon":128.8545,"h":1.75,"tip":128.8458,"ms":7},{"lon":128.8636,"h":1.75,"tip":128.8552,"ms":6.8},{"lon":128.8727,"h":1.75,"tip":128.8649,"ms":6.3},{"lon":128.8818,"h":1.75,"tip":128.8743,"ms":6.1},{"lon":128.8909,"h":1.75,"tip":128.8835,"ms":6},{"lon":128.9,"h":1.75,"tip":128.8928,"ms":5.8},{"lon":128.9091,"h":1.75,"tip":128.9022,"ms":5.6},{"lon":128.9182,"h":1.75,"tip":128.9114,"ms":5.5},{"lon":128.9273,"h":1.75,"tip":128.9207,"ms":5.3},{"lon":128.9364,"h":1.75,"tip":128.9301,"ms":5.1},{"lon":128.9455,"h":1.75,"tip":128.9393,"ms":5},{"lon":128.9545,"h":1.75,"tip":128.9483,"ms":5},{"lon":128.9636,"h":1.75,"tip":128.9577,"ms":4.8},{"lon":128.9727,"h":1.75,"tip":128.967,"ms":4.6},{"lon":128.9818,"h":1.75,"tip":128.9765,"ms":4.3},{"lon":128.9909,"h":1.75,"tip":128.9862,"ms":3.8},{"lon":129,"h":1.75,"tip":128.9963,"ms":3},
{"lon":128.7091,"h":1.506,"tip":128.6943,"ms":12},{"lon":128.7182,"h":1.506,"tip":128.7034,"ms":12},{"lon":128.7273,"h":1.506,"tip":128.7127,"ms":11.8},{"lon":128.7364,"h":1.506,"tip":128.7221,"ms":11.6},{"lon":128.7455,"h":1.506,"tip":128.7313,"ms":11.5},{"lon":128.7545,"h":1.506,"tip":128.7404,"ms":11.4},{"lon":128.7636,"h":1.506,"tip":128.7501,"ms":10.9},{"lon":128.7727,"h":1.506,"tip":128.7598,"ms":10.4},{"lon":128.7818,"h":1.506,"tip":128.7694,"ms":10},{"lon":128.7909,"h":1.506,"tip":128.7788,"ms":9.8},{"lon":128.8,"h":1.506,"tip":128.7885,"ms":9.3},{"lon":128.8091,"h":1.506,"tip":128.7982,"ms":8.8},{"lon":128.8182,"h":1.506,"tip":128.8077,"ms":8.5},{"lon":128.8273,"h":1.506,"tip":128.8172,"ms":8.2},{"lon":128.8364,"h":1.506,"tip":128.8264,"ms":8.1},{"lon":128.8455,"h":1.506,"tip":128.836,"ms":7.7},{"lon":128.8545,"h":1.506,"tip":128.8452,"ms":7.5},{"lon":128.8636,"h":1.506,"tip":128.8549,"ms":7},{"lon":128.8727,"h":1.506,"tip":128.8645,"ms":6.6},{"lon":128.8818,"h":1.506,"tip":128.8743,"ms":6.1},{"lon":128.8909,"h":1.506,"tip":128.8842,"ms":5.4},{"lon":128.9,"h":1.506,"tip":128.8936,"ms":5.2},{"lon":128.9091,"h":1.506,"tip":128.9028,"ms":5.1},{"lon":128.9182,"h":1.506,"tip":128.9119,"ms":5.1},{"lon":128.9273,"h":1.506,"tip":128.9209,"ms":5.2},{"lon":128.9364,"h":1.506,"tip":128.9302,"ms":5},{"lon":128.9455,"h":1.506,"tip":128.9396,"ms":4.8},{"lon":128.9545,"h":1.506,"tip":128.9487,"ms":4.7},{"lon":128.9636,"h":1.506,"tip":128.958,"ms":4.5},{"lon":128.9727,"h":1.506,"tip":128.967,"ms":4.6},{"lon":128.9818,"h":1.506,"tip":128.9764,"ms":4.4},{"lon":128.9909,"h":1.506,"tip":128.9857,"ms":4.2},{"lon":129,"h":1.506,"tip":128.9951,"ms":4},
{"lon":128.7091,"h":1.25,"tip":128.6956,"ms":10.9},{"lon":128.7182,"h":1.25,"tip":128.7047,"ms":10.9},{"lon":128.7273,"h":1.25,"tip":128.7141,"ms":10.7},{"lon":128.7364,"h":1.25,"tip":128.7234,"ms":10.5},{"lon":128.7455,"h":1.25,"tip":128.7328,"ms":10.3},{"lon":128.7545,"h":1.25,"tip":128.7419,"ms":10.2},{"lon":128.7636,"h":1.25,"tip":128.7509,"ms":10.3},{"lon":128.7727,"h":1.25,"tip":128.7605,"ms":9.9},{"lon":128.7818,"h":1.25,"tip":128.7702,"ms":9.4},{"lon":128.7909,"h":1.25,"tip":128.7795,"ms":9.2},{"lon":128.8,"h":1.25,"tip":128.7891,"ms":8.8},{"lon":128.8091,"h":1.25,"tip":128.7988,"ms":8.3},{"lon":128.8182,"h":1.25,"tip":128.8081,"ms":8.2},{"lon":128.8273,"h":1.25,"tip":128.8177,"ms":7.8},{"lon":128.8364,"h":1.25,"tip":128.827,"ms":7.6},{"lon":128.8455,"h":1.25,"tip":128.8364,"ms":7.4},{"lon":128.8545,"h":1.25,"tip":128.8458,"ms":7},{"lon":128.8636,"h":1.25,"tip":128.8552,"ms":6.8},{"lon":128.8727,"h":1.25,"tip":128.8642,"ms":6.9},{"lon":128.8818,"h":1.25,"tip":128.8735,"ms":6.7},{"lon":128.8909,"h":1.25,"tip":128.8829,"ms":6.5},{"lon":128.9,"h":1.25,"tip":128.8921,"ms":6.4},{"lon":128.9091,"h":1.25,"tip":128.9011,"ms":6.5},{"lon":128.9182,"h":1.25,"tip":128.91,"ms":6.6},{"lon":128.9273,"h":1.25,"tip":128.9191,"ms":6.6},{"lon":128.9364,"h":1.25,"tip":128.928,"ms":6.8},{"lon":128.9455,"h":1.25,"tip":128.9372,"ms":6.7},{"lon":128.9545,"h":1.25,"tip":128.9462,"ms":6.7},{"lon":128.9636,"h":1.25,"tip":128.9556,"ms":6.5},{"lon":128.9727,"h":1.25,"tip":128.9649,"ms":6.3},{"lon":128.9818,"h":1.25,"tip":128.9745,"ms":5.9},{"lon":128.9909,"h":1.25,"tip":128.9841,"ms":5.5},{"lon":129,"h":1.25,"tip":128.9934,"ms":5.3},
{"lon":128.7182,"h":1.006,"tip":128.7065,"ms":9.5},{"lon":128.7273,"h":1.006,"tip":128.7154,"ms":9.6},{"lon":128.7364,"h":1.006,"tip":128.7248,"ms":9.4},{"lon":128.7455,"h":1.006,"tip":128.7344,"ms":9},{"lon":128.7545,"h":1.006,"tip":128.7436,"ms":8.8},{"lon":128.7636,"h":1.006,"tip":128.7536,"ms":8.1},{"lon":128.7727,"h":1.006,"tip":128.7629,"ms":7.9},{"lon":128.7818,"h":1.006,"tip":128.7723,"ms":7.7},{"lon":128.7909,"h":1.006,"tip":128.7813,"ms":7.8},{"lon":128.8,"h":1.006,"tip":128.7906,"ms":7.6},{"lon":128.8091,"h":1.006,"tip":128.8002,"ms":7.2},{"lon":128.8182,"h":1.006,"tip":128.8088,"ms":7.6},{"lon":128.8273,"h":1.006,"tip":128.8177,"ms":7.8},{"lon":128.8364,"h":1.006,"tip":128.827,"ms":7.6},{"lon":128.8455,"h":1.006,"tip":128.8364,"ms":7.4},{"lon":128.8545,"h":1.006,"tip":128.8455,"ms":7.3},{"lon":128.8636,"h":1.006,"tip":128.8549,"ms":7},{"lon":128.8727,"h":1.006,"tip":128.8639,"ms":7.1},{"lon":128.8818,"h":1.006,"tip":128.8731,"ms":7},{"lon":128.8909,"h":1.006,"tip":128.8825,"ms":6.8},{"lon":128.9,"h":1.006,"tip":128.8918,"ms":6.6},{"lon":128.9091,"h":1.006,"tip":128.9018,"ms":5.9},{"lon":128.9182,"h":1.006,"tip":128.9119,"ms":5.1},{"lon":128.9273,"h":1.006,"tip":128.9209,"ms":5.2},{"lon":128.9364,"h":1.006,"tip":128.9298,"ms":5.3},{"lon":128.9455,"h":1.006,"tip":128.9389,"ms":5.3},{"lon":128.9545,"h":1.006,"tip":128.9481,"ms":5.2},{"lon":128.9636,"h":1.006,"tip":128.9572,"ms":5.2},{"lon":128.9727,"h":1.006,"tip":128.9658,"ms":5.6},{"lon":128.9818,"h":1.006,"tip":128.9749,"ms":5.6},{"lon":128.9909,"h":1.006,"tip":128.9841,"ms":5.5},{"lon":129,"h":1.006,"tip":128.9934,"ms":5.3},
{"lon":128.7727,"h":0.75,"tip":128.7644,"ms":6.7},{"lon":128.7818,"h":0.75,"tip":128.774,"ms":6.3},{"lon":128.7909,"h":0.75,"tip":128.7836,"ms":5.9},{"lon":128.8,"h":0.75,"tip":128.7923,"ms":6.2},{"lon":128.8091,"h":0.75,"tip":128.8017,"ms":6},{"lon":128.8182,"h":0.75,"tip":128.811,"ms":5.8},{"lon":128.8273,"h":0.75,"tip":128.8199,"ms":6},{"lon":128.8364,"h":0.75,"tip":128.8281,"ms":6.7},{"lon":128.8455,"h":0.75,"tip":128.8376,"ms":6.4},{"lon":128.8545,"h":0.75,"tip":128.8462,"ms":6.7},{"lon":128.8636,"h":0.75,"tip":128.8553,"ms":6.7},{"lon":128.8727,"h":0.75,"tip":128.8648,"ms":6.4},{"lon":128.8818,"h":0.75,"tip":128.8735,"ms":6.7},{"lon":128.8909,"h":0.75,"tip":128.8826,"ms":6.7},{"lon":128.9,"h":0.75,"tip":128.8917,"ms":6.7},{"lon":128.9091,"h":0.75,"tip":128.9007,"ms":6.8},{"lon":128.9182,"h":0.75,"tip":128.9097,"ms":6.9},{"lon":128.9273,"h":0.75,"tip":128.9184,"ms":7.2},{"lon":128.9364,"h":0.75,"tip":128.9274,"ms":7.3},{"lon":128.9455,"h":0.75,"tip":128.9365,"ms":7.3},{"lon":128.9545,"h":0.75,"tip":128.9454,"ms":7.4},{"lon":128.9636,"h":0.75,"tip":128.9547,"ms":7.2},{"lon":128.9727,"h":0.75,"tip":128.9639,"ms":7.1},{"lon":128.9818,"h":0.75,"tip":128.973,"ms":7.1},{"lon":128.9909,"h":0.75,"tip":128.982,"ms":7.2},{"lon":129,"h":0.75,"tip":128.991,"ms":7.3},
{"lon":128.7909,"h":0.503,"tip":128.7843,"ms":5.3},{"lon":128.8,"h":0.503,"tip":128.7934,"ms":5.3},{"lon":128.8091,"h":0.503,"tip":128.8029,"ms":5},{"lon":128.8182,"h":0.503,"tip":128.812,"ms":5},{"lon":128.8273,"h":0.503,"tip":128.8215,"ms":4.7},{"lon":128.8364,"h":0.503,"tip":128.8302,"ms":5},{"lon":128.8455,"h":0.503,"tip":128.8389,"ms":5.3},{"lon":128.8545,"h":0.503,"tip":128.8479,"ms":5.3},{"lon":128.8636,"h":0.503,"tip":128.8553,"ms":6.7},{"lon":128.8727,"h":0.503,"tip":128.8644,"ms":6.7},{"lon":128.8818,"h":0.503,"tip":128.8731,"ms":7},{"lon":128.8909,"h":0.503,"tip":128.8822,"ms":7},{"lon":128.9,"h":0.503,"tip":128.8909,"ms":7.4},{"lon":128.9091,"h":0.503,"tip":128.9006,"ms":6.9},{"lon":128.9182,"h":0.503,"tip":128.9103,"ms":6.4},{"lon":128.9273,"h":0.503,"tip":128.919,"ms":6.7},{"lon":128.9364,"h":0.503,"tip":128.928,"ms":6.8},{"lon":128.9455,"h":0.503,"tip":128.9371,"ms":6.8},{"lon":128.9545,"h":0.503,"tip":128.946,"ms":6.9},{"lon":128.9636,"h":0.503,"tip":128.9547,"ms":7.2},{"lon":128.9727,"h":0.503,"tip":128.9639,"ms":7.1},{"lon":128.9818,"h":0.503,"tip":128.9733,"ms":6.9},{"lon":128.9909,"h":0.503,"tip":128.982,"ms":7.2},{"lon":129,"h":0.503,"tip":128.991,"ms":7.3},
{"lon":128.8091,"h":0.25,"tip":128.8042,"ms":4},{"lon":128.8182,"h":0.25,"tip":128.8128,"ms":4.4},{"lon":128.8273,"h":0.25,"tip":128.8219,"ms":4.4},{"lon":128.8364,"h":0.25,"tip":128.8306,"ms":4.7},{"lon":128.8455,"h":0.25,"tip":128.8397,"ms":4.7},{"lon":128.8545,"h":0.25,"tip":128.8487,"ms":4.7},{"lon":128.8636,"h":0.25,"tip":128.8569,"ms":5.4},{"lon":128.8727,"h":0.25,"tip":128.8653,"ms":6},{"lon":128.8818,"h":0.25,"tip":128.8739,"ms":6.4},{"lon":128.8909,"h":0.25,"tip":128.883,"ms":6.4},{"lon":128.9,"h":0.25,"tip":128.8917,"ms":6.7},{"lon":128.9091,"h":0.25,"tip":128.9008,"ms":6.7},{"lon":128.9182,"h":0.25,"tip":128.9107,"ms":6.1},{"lon":128.9273,"h":0.25,"tip":128.92,"ms":5.9},{"lon":128.9364,"h":0.25,"tip":128.9292,"ms":5.8},{"lon":128.9455,"h":0.25,"tip":128.9386,"ms":5.6},{"lon":128.9545,"h":0.25,"tip":128.9475,"ms":5.7},{"lon":128.9636,"h":0.25,"tip":128.9562,"ms":6},{"lon":128.9727,"h":0.25,"tip":128.9645,"ms":6.6},{"lon":128.9818,"h":0.25,"tip":128.9733,"ms":6.9},{"lon":128.9909,"h":0.25,"tip":128.982,"ms":7.2},{"lon":129,"h":0.25,"tip":128.991,"ms":7.3}
]},
"encoding":{
"x":{"field":"lon","type":"quantitative","scale":{"domain":[128.7,129],"nice":false,"zero":false},"axis":{"values":[128.7,128.75,128.8,128.85,128.9,128.95,129],"format":".2f","grid":false,"zindex":1,"ticks":true,"domain":true,"labelFlush":false,"labelOverlap":false,"labelLimit":600,"title":"Longitude [ᵒ E]","titlePadding":37,"labelPadding":35}},
"y":{"field":"h","type":"quantitative","scale":{"domain":[0,3.5],"nice":false},"axis":{"values":[0,0.5,1,1.5,2,2.5,3,3.5],"format":".1f","grid":false,"zindex":1,"ticks":true,"domain":true,"labelFlush":false,"labelOverlap":false,"title":"Height [km]","titlePadding":65,"labelPadding":39}}
},
"layer":[
{"data":{"name":"polys"},"mark":{"type":"line","stroke":null,"strokeWidth":0},"encoding":{"fill":{"field":"cls","type":"nominal","scale":{"domain":["CR > 20%","AG > 20%","RP > 20%","IH > 20%","MH > 20%","WS > 30%","LR > 30%","RN > 30%"],"range":["rgba(30,144,255,0.3)","rgba(255,0,0,0.3)","rgba(0,0,255,0.3)","rgba(0,0,0,0.3)","rgba(128,128,128,0.3)","rgba(0,255,255,0.3)","rgba(50,180,50,0.36)","rgba(0,100,0,0.3)"]},"legend":{"title":null,"orient":"none","legendX":32,"legendY":30,"symbolType":"M-1.66,-0.72H4.34V0.72H-1.66Z","symbolSize":3600,"symbolStrokeWidth":0,"labelFontSize":69,"labelFont":"DejaVu Sans","labelColor":"black","labelOffset":130,"rowPadding":33,"padding":26,"fillColor":"rgba(255,255,255,0.8)","strokeColor":"#cccccc","cornerRadius":12,"labelLimit":500}},"detail":{"field":"part"},"order":{"field":"i"}}},
{"data":{"name":"polys"},"transform":[{"filter":"datum.seg"}],"mark":{"type":"line","strokeWidth":6.5,"strokeJoin":"miter"},"encoding":{"stroke":{"field":"cls","type":"nominal","scale":{"domain":["CR > 20%","AG > 20%","RP > 20%","IH > 20%","MH > 20%","WS > 30%","LR > 30%","RN > 30%"],"range":["#1e90ff","#ff0000","#0000ff","#000000","#808080","#00ffff","#32cd32","#006400"]},"legend":null},"detail":{"field":"seg"},"order":{"field":"i"}}},
{"data":{"name":"terrain"},"mark":{"type":"area","color":"#006400"}},
{"data":{"name":"arrows"},"mark":{"type":"rule","color":"black","strokeWidth":5.5,"clip":true},"encoding":{"x2":{"field":"tip"}}},
{"data":{"name":"arrows"},"mark":{"type":"point","filled":true,"color":"black","opacity":1,"clip":true},"encoding":{"x":{"field":"tip","type":"quantitative"},"size":{"field":"ms","type":"quantitative","scale":{"domain":[0,3],"range":[0,3300],"clamp":true},"legend":null},"shape":{"condition":{"test":"datum.h>=3","value":"M0,0L-1,-0.42L-0.8,0L-1,0.42Z"},"value":"M0,0L1,-0.42L0.8,0L1,0.42Z"}}},
{"data":{"name":"sites"},"mark":{"type":"point","filled":true,"shape":"circle","size":1000,"fill":"#ff0000","fillOpacity":0.45,"stroke":"#ff2020","strokeOpacity":0.6,"strokeWidth":8,"clip":true}},
{"data":{"name":"sites"},"mark":{"type":"text","font":"DejaVu Sans","fontSize":98,"align":"left","baseline":"middle","color":"black"},"encoding":{"x":{"field":"tx","type":"quantitative"},"y":{"field":"ty","type":"quantitative"},"text":{"field":"name"}}},
{"data":{"name":"gridx"},"mark":{"type":"rule","color":"#b0b0b0","strokeWidth":6.5},"encoding":{"y2":{"field":"h2"}}},
{"data":{"name":"gridy"},"mark":{"type":"rule","color":"#b0b0b0","strokeWidth":6.5},"encoding":{"x2":{"field":"tip"}}},
{"data":{"name":"key"},"mark":{"type":"rule","color":"black","strokeWidth":5.5},"encoding":{"x2":{"field":"tip"}}},
{"data":{"name":"key"},"mark":{"type":"point","filled":true,"color":"black","opacity":1,"shape":"M0,0L-1,-0.42L-0.8,0L-1,0.42Z"},"encoding":{"x":{"field":"tip","type":"quantitative"},"size":{"field":"ms","type":"quantitative","scale":{"domain":[0,3],"range":[0,3300],"clamp":true},"legend":null}}},
{"data":{"name":"key"},"mark":{"type":"text","font":"DejaVu Sans","fontSize":66,"align":"left","baseline":"middle","color":"black"},"encoding":{"x":{"field":"tx","type":"quantitative"},"text":{"field":"label"}}}
],
"config":{"font":"DejaVu Sans","view":{"stroke":"black","strokeWidth":7},"axis":{"labelFont":"DejaVu Sans","labelFontSize":98,"labelColor":"black","titleFont":"DejaVu Sans","titleFontSize":98,"titleFontWeight":"normal","titleColor":"black","domainColor":"black","domainWidth":7,"tickColor":"black","tickWidth":6,"tickSize":34},"legend":{"strokeWidth":6}}
}
